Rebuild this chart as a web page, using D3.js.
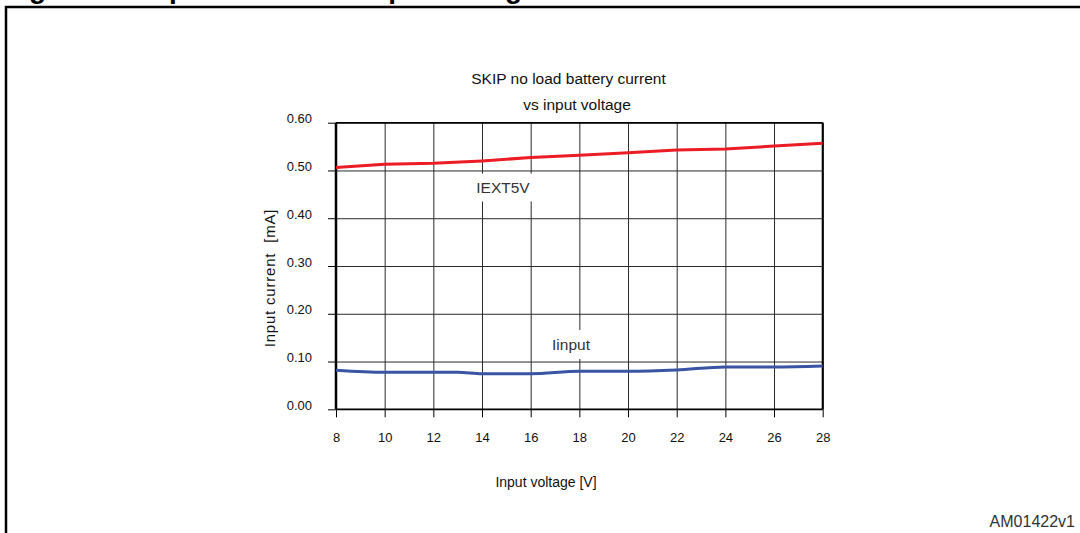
<!DOCTYPE html>
<html><head><meta charset="utf-8">
<script src="https://cdn.jsdelivr.net/npm/d3@7"></script>
<style>
html,body{margin:0;padding:0;background:#fff;}
svg{display:block;font-family:"Liberation Sans",Arial,sans-serif;}
</style></head>
<body>
<svg id="c" width="1080" height="533"></svg>
<script>
const voltageTicks = [8,10,12,14,16,18,20,22,24,26,28];
const currentTicks = [0,0.1,0.2,0.3,0.4,0.5,0.6];
const iext5vV = [8,10,12,14,16,18,20,22,24,26,28];
const iext5vI = [0.506,0.513,0.515,0.520,0.527,0.532,0.537,0.543,0.545,0.551,0.557];
const iinputV = [8,10,12,13,14,16,18,20,22,24,26,28];
const iinputI = [0.082,0.0775,0.0775,0.0775,0.0745,0.0745,0.0795,0.0795,0.0823,0.0885,0.0885,0.0906];

const svg = d3.select("#c");
const L=336, R=822.7, T=122.7, B=409.3;
const x = d3.scaleLinear().domain([8,28]).range([L,R]);
const y = d3.scaleLinear().domain([0,0.6]).range([B,T]);

// outer frame
svg.append("path").attr("d",`M6,533 L6,7 L1080,7`).attr("fill","none").attr("stroke","#000").attr("stroke-width",2.5);
// cropped figure caption
svg.append("text").attr("x",4).attr("y",-2).attr("font-size",28).attr("font-weight","bold")
  .text("Figure 13. Input current vs input voltage");

// grid
const gx = svg.append("g").attr("transform",`translate(0,${B})`)
  .call(d3.axisBottom(x).tickValues(voltageTicks).tickSize(-(B-T)).tickFormat(""));
gx.select(".domain").remove();
gx.selectAll("line").attr("stroke","#2a2a2a").attr("stroke-width",1);
const gy = svg.append("g").attr("transform",`translate(${L},0)`)
  .call(d3.axisLeft(y).tickValues(currentTicks).tickSize(-(R-L)).tickFormat(""));
gy.select(".domain").remove();
gy.selectAll("line").attr("stroke","#2a2a2a").attr("stroke-width",1);

// axes with outward ticks
const ax = svg.append("g").attr("transform",`translate(0,${B})`)
  .call(d3.axisBottom(x).tickValues(voltageTicks).tickSize(8).tickPadding(15).tickFormat(d3.format("d")));
ax.select(".domain").remove();
ax.selectAll("line").attr("stroke","#000");
ax.selectAll("text").attr("font-size",13).attr("fill","#111");
const ay = svg.append("g").attr("transform",`translate(${L},0)`)
  .call(d3.axisLeft(y).tickValues(currentTicks).tickSize(8).tickPadding(16).tickFormat(d3.format(".2f")));
ay.select(".domain").remove();
ay.selectAll("line").attr("stroke","#000");
ay.selectAll("text").attr("font-size",13).attr("fill","#111").attr("dy","0.0em");

// plot frame
svg.append("line").attr("x1",L).attr("x2",L).attr("y1",T).attr("y2",B).attr("stroke","#000").attr("stroke-width",2.5);
svg.append("line").attr("x1",R).attr("x2",R).attr("y1",T).attr("y2",B).attr("stroke","#000").attr("stroke-width",2);
svg.append("line").attr("x1",L).attr("x2",R).attr("y1",T).attr("y2",T).attr("stroke","#000").attr("stroke-width",1.5);
svg.append("line").attr("x1",L).attr("x2",R).attr("y1",B).attr("y2",B).attr("stroke","#000").attr("stroke-width",1.5);

// series labels with white background
function label(tx,ty,txt,padTop,padBot){
  const g = svg.append("g");
  const r = g.append("rect").attr("fill","#fff");
  const t = g.append("text").attr("x",tx).attr("y",ty).attr("text-anchor","middle")
    .attr("font-size",15.5).attr("fill","#333").text(txt);
  const b = t.node().getBBox();
  r.attr("x",b.x-6).attr("y",b.y-padTop).attr("width",b.width+12).attr("height",b.height+padTop+padBot);
}
label(503,192.5,"IEXT5V",5,6);
label(571,350,"Iinput",6,6);

// lines
const line = d3.line().x(d=>x(d[0])).y(d=>y(d[1]));
svg.append("path").datum(iext5vV.map((v,i)=>[v,iext5vI[i]])).attr("d",line)
  .attr("fill","none").attr("stroke","#ec1c24").attr("stroke-width",3);
svg.append("path").datum(iinputV.map((v,i)=>[v,iinputI[i]])).attr("d",line.curve(d3.curveMonotoneX))
  .attr("fill","none").attr("stroke","#3a54a4").attr("stroke-width",3);

// titles
svg.append("text").attr("x",568.5).attr("y",84).attr("text-anchor","middle").attr("font-size",15.5).attr("fill","#111").text("SKIP no load battery current");
svg.append("text").attr("x",577).attr("y",110).attr("text-anchor","middle").attr("font-size",15.5).attr("fill","#111").text("vs input voltage");
svg.append("text").attr("transform","translate(275,278) rotate(-90)").attr("text-anchor","middle").attr("font-size",15).attr("letter-spacing","0.8px").style("white-space","pre").attr("fill","#111").text("Input current  [mA]");
svg.append("text").attr("x",546).attr("y",487).attr("text-anchor","middle").attr("font-size",14).attr("fill","#111").text("Input voltage [V]");
svg.append("text").attr("x",1075).attr("y",527).attr("text-anchor","end").attr("font-size",16).attr("fill","#333").text("AM01422v1");
</script>
</body></html>
